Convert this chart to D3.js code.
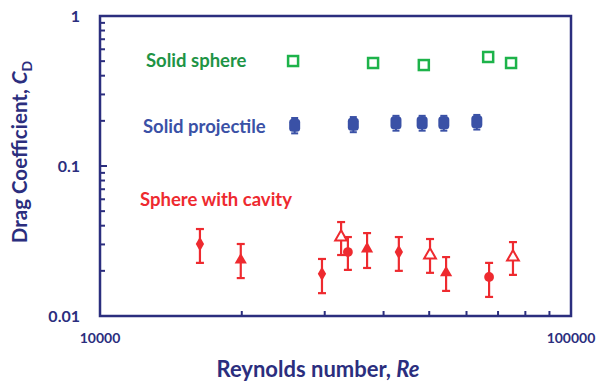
<!DOCTYPE html>
<html><head><meta charset="utf-8">
<script src="https://cdn.jsdelivr.net/npm/d3@7"></script>
<style>body{margin:0;background:#fff;} text{font-family:Lato, "Open Sans", sans-serif;font-weight:bold;}</style>
</head><body>
<svg id="c" width="600" height="385"></svg>
<script>
// Data
const sphereRe = [25700, 38000, 48700, 66700, 74600];
const sphereCd = [0.501, 0.486, 0.471, 0.533, 0.486];

const projRe = [25900, 34500, 42500, 48300, 53700, 63100];
const projCd = [0.187, 0.190, 0.194, 0.194, 0.194, 0.197];
const projErr = [0.022, 0.022, 0.022, 0.022, 0.022, 0.022];

const cavityRe   = [16300, 19900, 29600, 32500, 33600, 36900, 43100, 50200, 54300, 67000, 75300];
const cavityCd   = [0.0302, 0.0236, 0.0191, 0.0336, 0.0267, 0.0280, 0.0267, 0.0255, 0.0194, 0.0182, 0.0247];
const cavityLo   = [0.0226, 0.0179, 0.0142, 0.0255, 0.0203, 0.0209, 0.0200, 0.0194, 0.0147, 0.0134, 0.0188];
const cavityHi   = [0.0380, 0.0302, 0.0240, 0.0423, 0.0336, 0.0357, 0.0336, 0.0326, 0.0247, 0.0226, 0.0311];
const cavityShape = ["diamond","triangle","diamond","triangleOpen","circle","triangle","diamond","triangleOpen","triangle","circle","triangleOpen"];

const yTickLabels = ["1", "0.1", "0.01"];
const xTickLabels = ["10000", "100000"];

const navy = "#2B2E7E", green = "#1DB34A", greenText = "#1E9445", blue = "#3A51A6", red = "#EE2A2F";

const svg = d3.select("#c");
const L = 100, R = 571, T = 16, B = 316;
const x = d3.scaleLog().domain([10000, 100000]).range([L, R]);
const y = d3.scaleLog().domain([0.01, 1]).range([B, T]);

// minor ticks
const yMinor = [];
[0.01, 0.1].forEach(d => { for (let k = 2; k <= 9; k++) yMinor.push(d * k); });
const xMinor = [];
for (let k = 2; k <= 9; k++) xMinor.push(10000 * k);

const g = svg.append("g");
g.selectAll("line.ym").data(yMinor).join("line")
  .attr("x1", L).attr("x2", L + 5).attr("y1", d => y(d)).attr("y2", d => y(d))
  .attr("stroke", navy).attr("stroke-width", 2);
g.selectAll("line.yM").data([0.1]).join("line")
  .attr("x1", L).attr("x2", L + 7).attr("y1", d => y(d)).attr("y2", d => y(d))
  .attr("stroke", navy).attr("stroke-width", 2);
g.selectAll("line.xm").data(xMinor).join("line")
  .attr("x1", d => x(d)).attr("x2", d => x(d)).attr("y1", B).attr("y2", B - 5)
  .attr("stroke", navy).attr("stroke-width", 2);

// frame
g.append("rect").attr("x", L).attr("y", T).attr("width", R - L).attr("height", B - T)
  .attr("fill", "none").attr("stroke", navy).attr("stroke-width", 2.5);

// tick labels
const yVals = [1, 0.1, 0.01];
g.selectAll("text.yt").data(yVals).join("text")
  .attr("x", L - 20).attr("y", d => y(d) + 6).attr("text-anchor", "end")
  .attr("font-size", 16).attr("fill", navy).text((d, i) => yTickLabels[i]);
const xVals = [10000, 100000];
g.selectAll("text.xt").data(xVals).join("text")
  .attr("x", d => x(d)).attr("y", 343).attr("text-anchor", "middle")
  .attr("font-size", 14).attr("fill", navy).text((d, i) => xTickLabels[i]);

// axis titles
const xt = svg.append("text").attr("x", 318).attr("y", 377).attr("text-anchor", "middle")
  .attr("font-size", 22).attr("fill", navy);
xt.append("tspan").text("Reynolds number, ");
xt.append("tspan").attr("font-style", "italic").text("Re");

const yt = svg.append("text").attr("transform", "translate(27,152) rotate(-90)")
  .attr("text-anchor", "middle").attr("font-size", 20.5).attr("fill", navy);
yt.append("tspan").text("Drag Coefficient, ");
yt.append("tspan").attr("font-style", "italic").text("C");
yt.append("tspan").attr("font-size", 14).attr("dy", 5).text("D");

// series labels
svg.append("text").attr("x", 146).attr("y", 67).attr("font-size", 18.5).attr("fill", greenText).text("Solid sphere");
svg.append("text").attr("x", 143).attr("y", 133).attr("font-size", 18.5).attr("fill", blue).text("Solid projectile");
svg.append("text").attr("x", 140).attr("y", 206).attr("font-size", 18.5).attr("fill", red).text("Sphere with cavity");

// solid sphere: open squares
svg.selectAll("rect.sq").data(sphereRe).join("rect")
  .attr("x", d => x(d) - 5).attr("y", (d, i) => y(sphereCd[i]) - 5)
  .attr("width", 10).attr("height", 10)
  .attr("fill", "none").attr("stroke", green).attr("stroke-width", 2.5);

// solid projectile
const pg = svg.append("g");
projRe.forEach((re, i) => {
  const cx = x(re), cy = y(projCd[i]);
  const y1 = y(projCd[i] + projErr[i]), y2 = y(projCd[i] - projErr[i]);
  pg.append("line").attr("x1", cx).attr("x2", cx).attr("y1", y1).attr("y2", y2).attr("stroke", blue).attr("stroke-width", 2);
  [y1, y2].forEach(yy => pg.append("line").attr("x1", cx - 3.5).attr("x2", cx + 3.5).attr("y1", yy).attr("y2", yy).attr("stroke", blue).attr("stroke-width", 2));
  pg.append("rect").attr("x", cx - 5.5).attr("y", cy - 6.5).attr("width", 11).attr("height", 13).attr("rx", 3.5).attr("fill", blue);
});

// sphere with cavity
const rg = svg.append("g");
const sym = {
  diamond: d3.symbol().type(d3.symbolDiamond).size(60),
  triangle: d3.symbol().type(d3.symbolTriangle).size(65),
  triangleOpen: d3.symbol().type(d3.symbolTriangle).size(60),
  circle: d3.symbol().type(d3.symbolCircle).size(75)
};
cavityRe.forEach((re, i) => {
  const cx = x(re), cy = y(cavityCd[i]);
  const y1 = y(cavityHi[i]), y2 = y(cavityLo[i]);
  rg.append("line").attr("x1", cx).attr("x2", cx).attr("y1", y1).attr("y2", y2).attr("stroke", red).attr("stroke-width", 2.2);
  [y1, y2].forEach(yy => rg.append("line").attr("x1", cx - 4).attr("x2", cx + 4).attr("y1", yy).attr("y2", yy).attr("stroke", red).attr("stroke-width", 2.2));
  const s = cavityShape[i];
  const p = rg.append("path").attr("d", sym[s]()).attr("transform", `translate(${cx},${cy})`);
  if (s === "triangleOpen") p.attr("fill", "#fff").attr("stroke", red).attr("stroke-width", 2);
  else p.attr("fill", red);
});
</script>
</body></html>
